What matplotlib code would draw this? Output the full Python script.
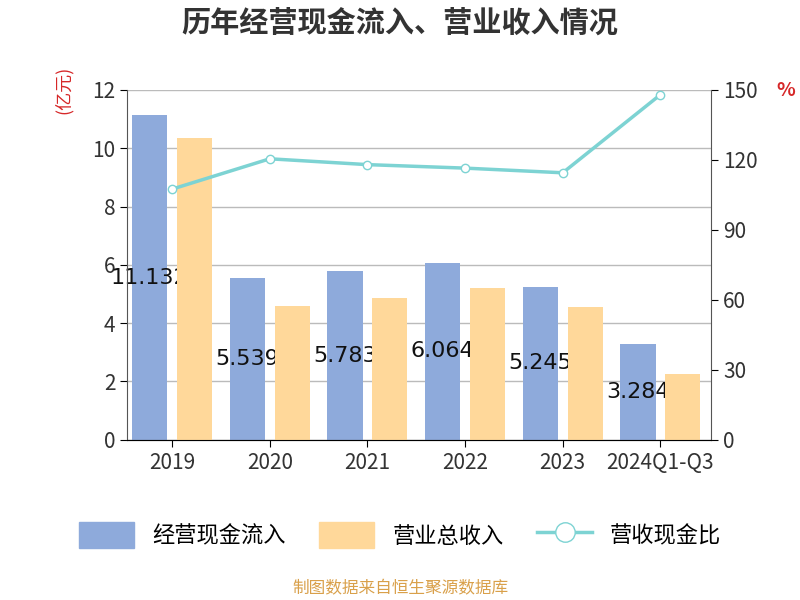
import matplotlib
matplotlib.use("Agg")
import matplotlib.pyplot as plt
import numpy as np
from matplotlib.lines import Line2D
from matplotlib.patches import Patch

plt.rcParams['font.family'] = ['Noto Sans CJK SC', 'DejaVu Sans']

categories = ["2019", "2020", "2021", "2022", "2023", "2024Q1-Q3"]
cash_inflow = [11.132, 5.539, 5.783, 6.064, 5.245, 3.284]
revenue = [10.35, 4.60, 4.85, 5.20, 4.57, 2.25]
ratio = [107.5, 120.5, 118.0, 116.5, 114.5, 148.0]

blue = "#8eaadb"
orange = "#ffd89a"
teal = "#7dd3d3"

fig = plt.figure(figsize=(8, 6), dpi=100)
ax = fig.add_axes([0.159, 0.267, 0.73, 0.583])
x = np.arange(len(categories))
w = 0.36
off = 0.23
ax.bar(x - off, cash_inflow, w, color=blue, zorder=2)
for xi, v in zip(x, cash_inflow):
    ax.text(xi - off, v/2, f"{v:.3f}", ha="center", va="center", fontsize=16, color="#111", zorder=2.5, family="DejaVu Sans")
ax.bar(x + off, revenue, w, color=orange, zorder=3)
ax.set_ylim(0, 12)
ax.set_yticks(range(0, 13, 2))
ax.set_xlim(-0.46, len(categories) - 0.48)
ax.set_xticks(x)
ax.set_xticklabels(categories, fontsize=15, color="#333")
ax.tick_params(axis='y', labelsize=15, length=5, labelcolor="#333")
ax.tick_params(axis='x', length=5)
ax.grid(axis='y', color="#bbbbbb", lw=1, zorder=0)
for s in ["top", "right"]:
    ax.spines[s].set_visible(False)
ax.spines["left"].set_color("#555")
ax.spines["bottom"].set_color("#555")

ax2 = ax.twinx()
ax2.plot(x, ratio, color=teal, lw=2.5, marker="o", markersize=6, markerfacecolor="white", markeredgecolor=teal, zorder=5)
ax2.set_ylim(0, 150)
ax2.set_yticks(range(0, 151, 30))
ax2.tick_params(axis='y', labelsize=15, length=5, labelcolor="#333")
for s in ["top", "left"]:
    ax2.spines[s].set_visible(False)
ax2.spines["right"].set_color("#555")

fig.text(0.08, 0.85, "(亿元)", color="#d62728", rotation=90, fontsize=13, ha="center", va="center")
fig.text(0.982, 0.85, "%", color="#d62728", fontsize=14, ha="center", va="center", weight="bold")
fig.text(0.5, 0.962, "历年经营现金流入、营业收入情况", fontsize=21, weight="bold", ha="center", va="center", color="#333")
fig.text(0.5, 0.018, "制图数据来自恒生聚源数据库", fontsize=12, ha="center", va="center", color="#d9a04a")

handles = [Patch(facecolor=blue, edgecolor=blue), Patch(facecolor=orange, edgecolor=orange),
           Line2D([0], [0], color=teal, lw=2.5, marker="o", markersize=14, markerfacecolor="white", markeredgecolor=teal)]
fig.legend(handles, ["经营现金流入", "营业总收入", "营收现金比"], loc="center", bbox_to_anchor=(0.5, 0.108),
           ncol=3, frameon=False, fontsize=16, handlelength=2.5, handleheight=1.4, columnspacing=1.5)
fig.savefig("out.png")
